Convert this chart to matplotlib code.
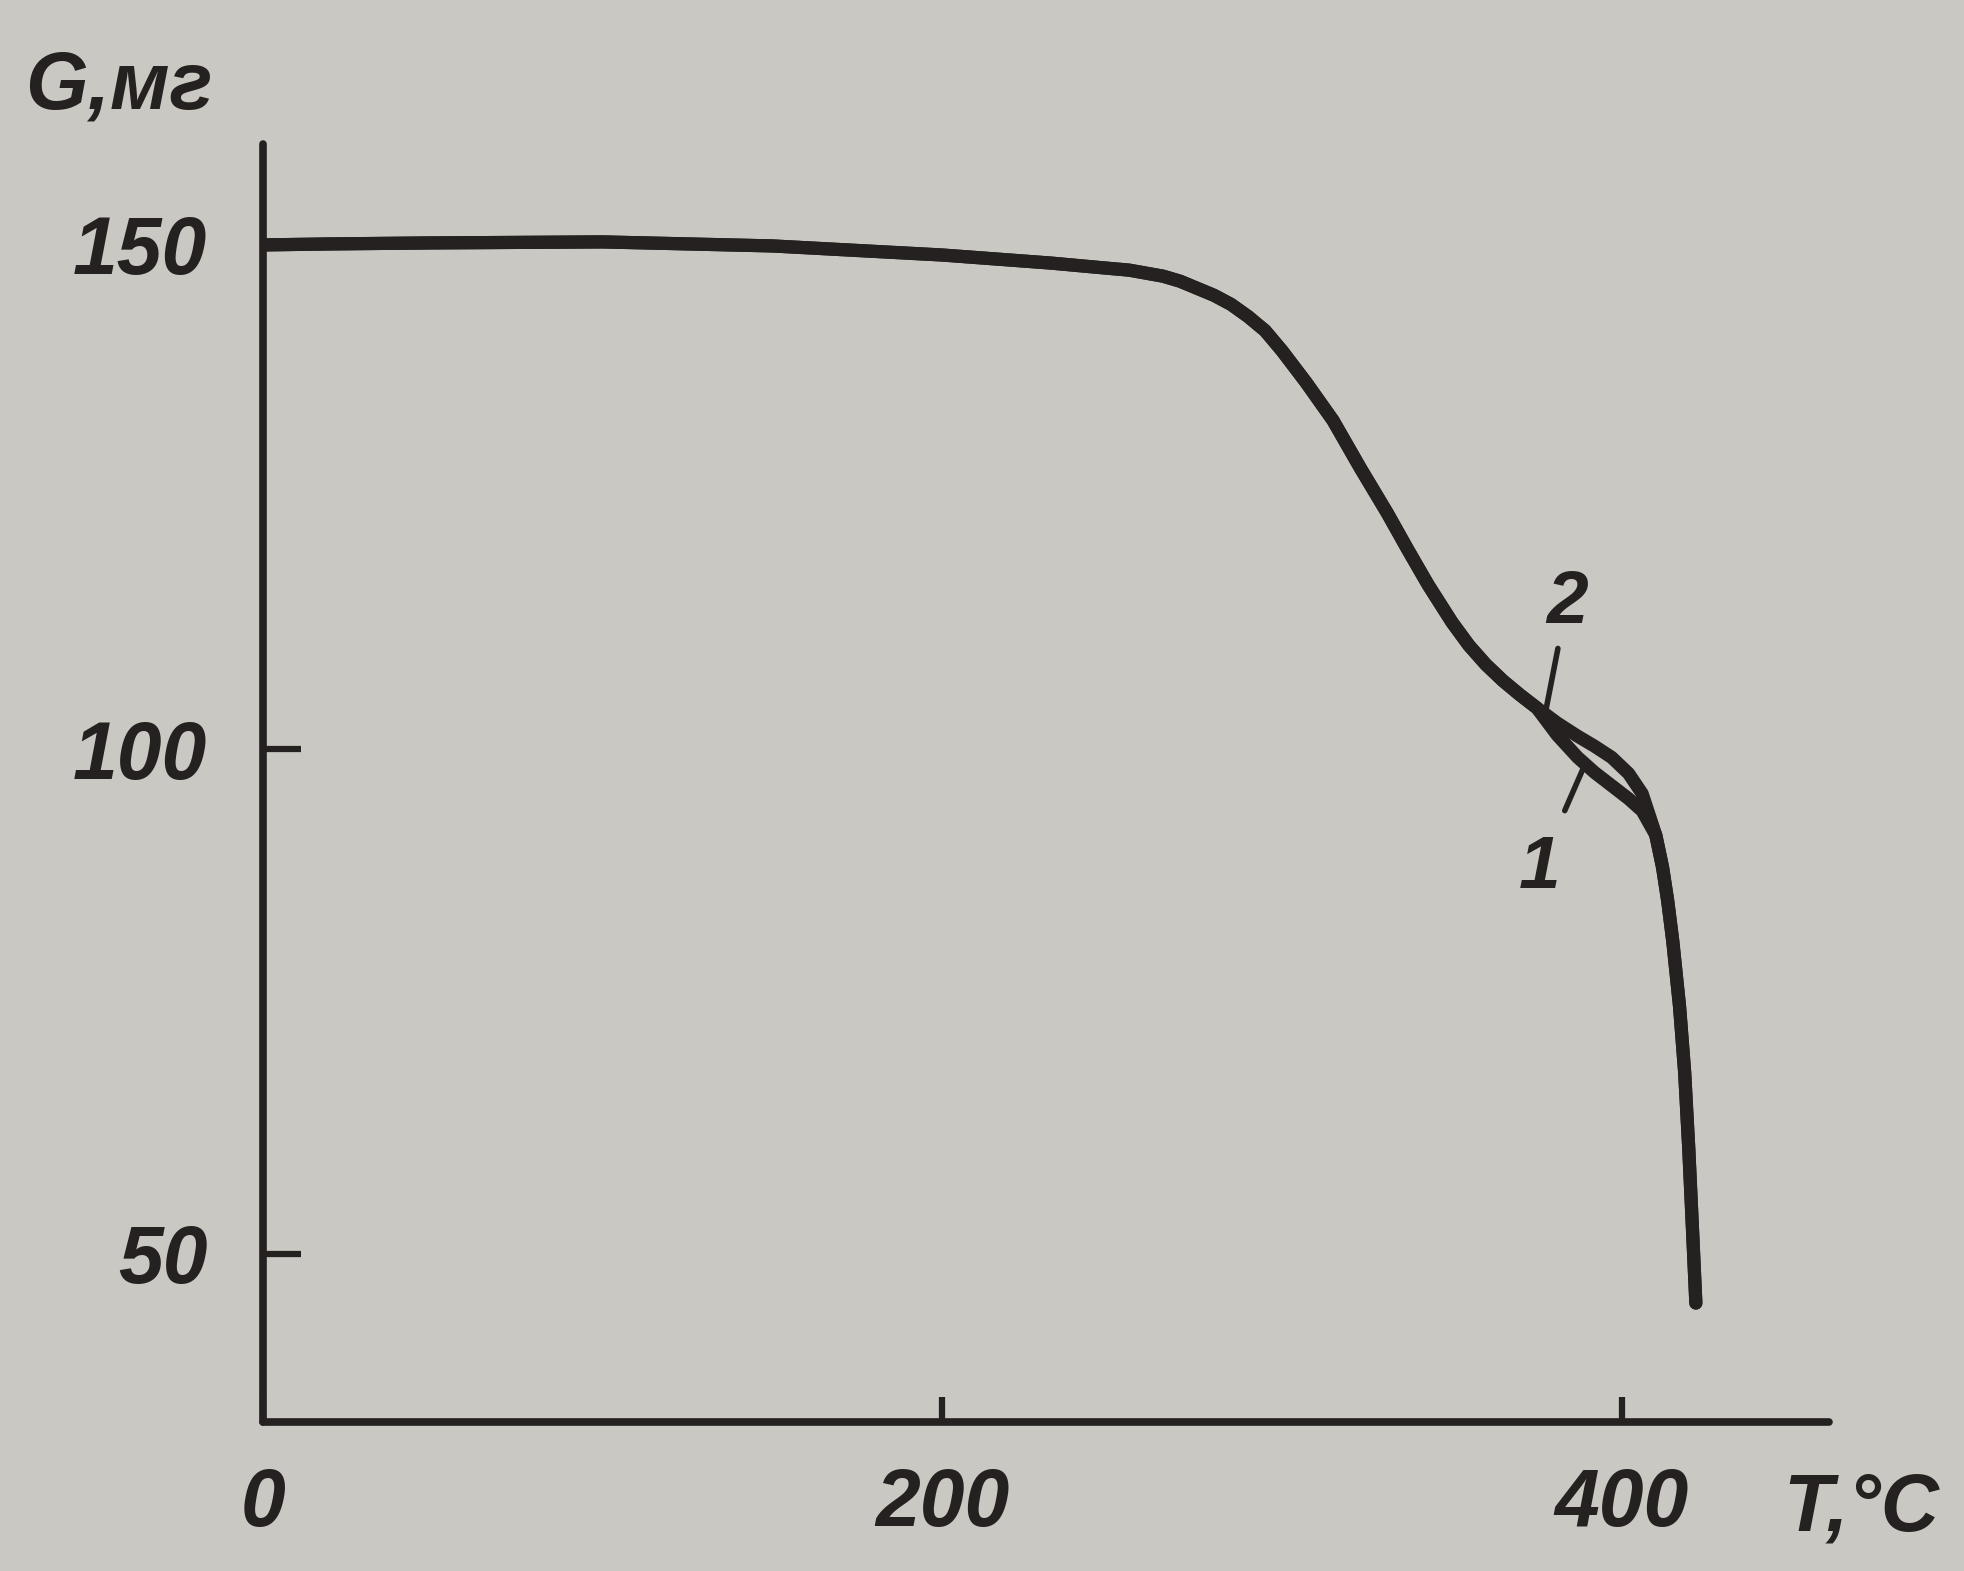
import matplotlib
matplotlib.use('Agg')
import matplotlib.pyplot as plt

# кривые потери массы (ТГА)
T_common = [0, 20, 50, 100, 150, 200, 216, 232, 245, 255, 265, 270, 275, 280, 285,
            290, 295, 300, 307, 315, 323, 331, 337, 343, 350, 355, 360, 365, 370, 375]
G_common = [150.0, 150.1, 150.2, 150.3, 149.9, 149.0, 148.6, 148.2, 147.8, 147.5,
            146.9, 146.4, 145.7, 145.0, 144.1, 142.9, 141.5, 139.5, 136.4, 132.6,
            127.9, 123.4, 119.8, 116.3, 112.6, 110.3, 108.4, 106.8, 105.4, 104.1]

T_split = [381, 387, 392, 397, 402, 406]
G_curve1 = [101.4, 99.2, 97.7, 96.4, 95.1, 93.9]
G_curve2 = [102.6, 101.3, 100.3, 99.2, 97.6, 95.6]

T_tail = [410, 412, 413.5, 415, 417, 418.5, 419.7, 420.8, 421.8]
G_tail = [91.5, 88.3, 85.0, 81.0, 74.5, 68.0, 60.5, 52.5, 45.1]

x_ticks = [0, 200, 400]
y_ticks = [50, 100, 150]

bg = '#cac8c2'
ink = '#262121'
font = ['Liberation Sans', 'DejaVu Sans']

fig = plt.figure(figsize=(19.65, 15.71), dpi=100, facecolor=bg)
ax = fig.add_axes([0.1338, 0.0948, 0.797, 0.8135])
ax.set_facecolor('none')

for G_mid in (G_curve1, G_curve2):
    T = T_common + T_split + T_tail
    G = G_common + G_mid + G_tail
    ax.plot(T, G, color=ink, lw=9.5, solid_joinstyle='round', solid_capstyle='round')

ax.set_xlim(0, 461)
ax.set_ylim(33.3, 160)
for s in ('top', 'right'):
    ax.spines[s].set_visible(False)
for s in ('left', 'bottom'):
    ax.spines[s].set_linewidth(5.5)
    ax.spines[s].set_color(ink)
    ax.spines[s].set_capstyle('round')

lbl = dict(family=font, style='italic', weight='bold', fontsize=58, color=ink)
ax.set_xticks(x_ticks)
ax.set_xticklabels([str(v) for v in x_ticks], **lbl)
ax.set_yticks(y_ticks)
ax.set_yticklabels([str(v) for v in y_ticks], **lbl)
ax.tick_params(axis='y', direction='in', length=27, width=4.5, color=ink, pad=40)
ax.tick_params(axis='x', direction='in', length=18, width=4.5, color=ink, pad=32)

# номера кривых с выносками
ax.annotate('2', xy=(377.5, 103.6), xytext=(383.8, 114.5), ha='center', va='center',
            arrowprops=dict(arrowstyle='-', color=ink, lw=4, shrinkA=6, shrinkB=0),
            **dict(lbl, fontsize=54))
ax.annotate('1', xy=(388.5, 98.0), xytext=(375.8, 88.2), ha='center', va='center',
            arrowprops=dict(arrowstyle='-', color=ink, lw=4, shrinkA=16, shrinkB=0),
            **dict(lbl, fontsize=54))

fig.text(0.0606, 0.944, 'G,мг', ha='center', va='center', **lbl)
fig.text(0.947, 0.039, 'T,°C', ha='center', va='center', **lbl)

plt.savefig('out.png', dpi=100, facecolor=bg)
